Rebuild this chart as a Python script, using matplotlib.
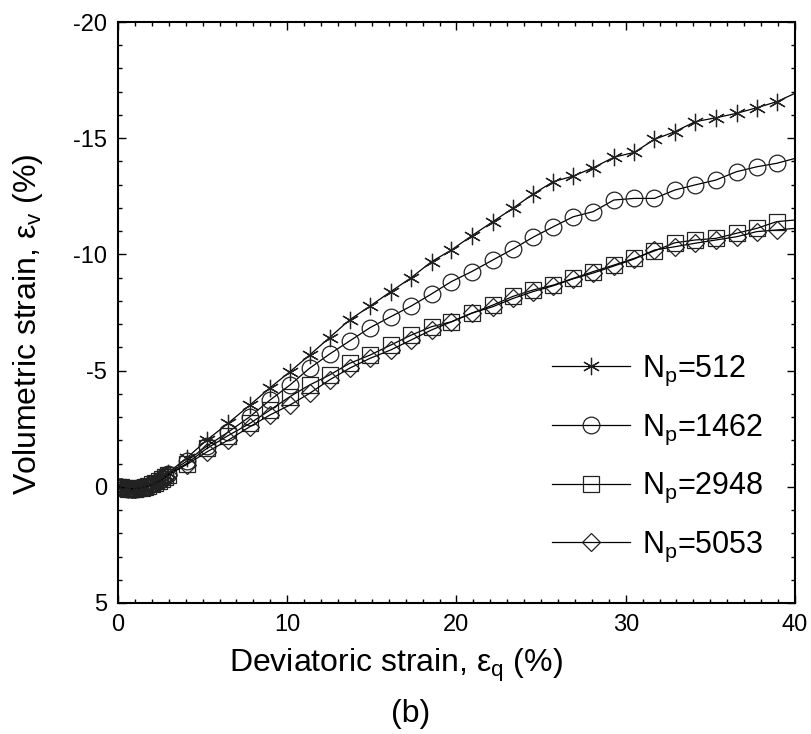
import matplotlib
matplotlib.use('Agg')
import matplotlib.pyplot as plt
from matplotlib.ticker import MultipleLocator

plt.rcParams['font.family'] = ['Liberation Sans', 'DejaVu Sans']
plt.rcParams['mathtext.fontset'] = 'custom'
plt.rcParams['mathtext.rm'] = 'Liberation Sans'
plt.rcParams['mathtext.it'] = 'Liberation Sans'
plt.rcParams['axes.unicode_minus'] = False

# deviatoric strain (%) - dense at start, then one point every ~1.2 %
strain = [0.0, 0.2, 0.4, 0.6, 0.8, 1.0, 1.2, 1.4, 1.6, 1.8, 2.0, 2.2, 2.4, 2.6, 2.8, 2.95,
          4.05, 5.25, 6.5, 7.8, 8.98, 10.16, 11.32, 12.5, 13.68, 14.9, 16.12, 17.33,
          18.53, 19.7, 20.9, 22.15, 23.36, 24.53, 25.72, 26.9, 28.08, 29.3, 30.5,
          31.7, 32.9, 34.1, 35.33, 36.55, 37.74, 38.92, 40.0]

ev_512 = [0.0, 0.03, 0.06, 0.09, 0.1, 0.1, 0.08, 0.04, 0.0, -0.06, -0.13, -0.21, -0.3, -0.4, -0.5, -0.6,
          -1.23, -2.01, -2.73, -3.52, -4.26, -4.95, -5.67, -6.42, -7.18, -7.78, -8.40, -9.0,
          -9.69, -10.19, -10.8, -11.41, -12.0, -12.6, -13.13, -13.37, -13.73, -14.18, -14.39,
          -14.95, -15.28, -15.71, -15.88, -16.07, -16.31, -16.57, -16.93]
ev_1462 = [0.0, 0.03, 0.06, 0.08, 0.1, 0.09, 0.07, 0.04, 0.0, -0.05, -0.11, -0.18, -0.26, -0.35, -0.45, -0.55,
           -1.1, -1.75, -2.35, -3.02, -3.73, -4.38, -5.10, -5.71, -6.27, -6.85, -7.32, -7.78,
           -8.30, -8.83, -9.26, -9.76, -10.24, -10.74, -11.19, -11.62, -11.84, -12.34, -12.41,
           -12.41, -12.77, -12.99, -13.2, -13.56, -13.77, -13.92, -14.13]
ev_2948 = [0.0, 0.02, 0.05, 0.08, 0.09, 0.09, 0.07, 0.04, 0.0, -0.05, -0.1, -0.17, -0.25, -0.33, -0.42, -0.52,
           -1.0, -1.65, -2.2, -2.73, -3.30, -3.88, -4.38, -4.81, -5.31, -5.67, -6.10, -6.53,
           -6.89, -7.10, -7.47, -7.82, -8.2, -8.47, -8.68, -8.97, -9.26, -9.54, -9.83,
           -10.15, -10.5, -10.62, -10.69, -10.91, -11.12, -11.41, -11.48]
ev_5053 = [0.0, 0.02, 0.05, 0.07, 0.08, 0.08, 0.06, 0.03, 0.0, -0.04, -0.09, -0.16, -0.23, -0.31, -0.4, -0.5,
           -0.95, -1.5, -2.0, -2.59, -3.09, -3.52, -4.02, -4.60, -5.10, -5.53, -5.89, -6.32,
           -6.75, -7.10, -7.47, -7.75, -8.11, -8.4, -8.65, -8.95, -9.2, -9.5, -9.8,
           -10.19, -10.33, -10.48, -10.62, -10.76, -10.98, -11.05, -11.12]

labels = [r'N$_{\mathregular{p}}$=512', r'N$_{\mathregular{p}}$=1462',
          r'N$_{\mathregular{p}}$=2948', r'N$_{\mathregular{p}}$=5053']

fig = plt.figure(figsize=(8.12, 7.34), dpi=100)
ax = fig.add_axes([0.1453, 0.1785, 0.8337, 0.7915])

marks = list(range(len(strain) - 1))  # last point is only the line end
styles = [((6, 2, 0), 12.5), ('o', 12), ('s', 11.5), ('D', 9)]
for ev, (mk, ms), lab in zip([ev_512, ev_1462, ev_2948, ev_5053], styles, labels):
    ax.plot(strain, ev, color='black', lw=0.9, marker=mk, ms=ms, mfc='none',
            mec='#222222', mew=0.9, markevery=marks, label=lab)

ax.set_xlim(0, 40)
ax.set_ylim(5, -20)
ax.xaxis.set_major_locator(MultipleLocator(10))
ax.xaxis.set_minor_locator(MultipleLocator(1))
ax.yaxis.set_major_locator(MultipleLocator(5))
ax.yaxis.set_minor_locator(MultipleLocator(1))
ax.tick_params(which='both', direction='in', top=True, right=True, width=1, labelsize=17)
ax.tick_params(which='major', length=6)
ax.tick_params(which='minor', length=3)
ax.tick_params(axis='y', pad=8)
ax.tick_params(axis='x', pad=8)
for s in ax.spines.values():
    s.set_linewidth(1.5)

ax.set_xlabel(r'Deviatoric strain, ε$_{\mathregular{q}}$ (%)', fontsize=23, labelpad=4)
ax.xaxis.set_label_coords(0.41, -0.075)
ax.set_ylabel(r'Volumetric strain, ε$_{\mathregular{v}}$ (%)', fontsize=23, labelpad=14)
ax.yaxis.set_label_coords(-0.108, 0.48)
fig.text(0.506, 0.027, '(b)', fontsize=23, ha='center', va='center')

ax.legend(loc='center left', bbox_to_anchor=(0.641, 0.248), frameon=False, fontsize=22,
          handlelength=2.56, handletextpad=0.4, labelspacing=0.8, borderpad=0,
          borderaxespad=0)

fig.savefig('out.png', dpi=100)
